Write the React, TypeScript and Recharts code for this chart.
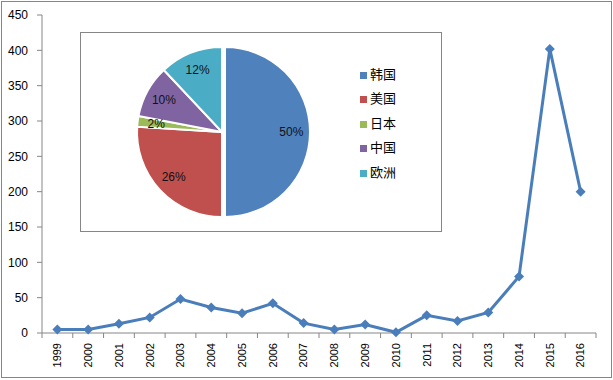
import React from "react";
import { ComposedChart, Line, XAxis, YAxis, PieChart, Pie, Cell } from "recharts";

// yearly counts (line chart)
const years = [
  "1999", "2000", "2001", "2002", "2003", "2004", "2005", "2006", "2007",
  "2008", "2009", "2010", "2011", "2012", "2013", "2014", "2015", "2016",
];
const counts = [5, 5, 13, 22, 48, 36, 28, 42, 14, 5, 12, 1, 25, 17, 29, 80, 402, 200];
const yTicks = [0, 50, 100, 150, 200, 250, 300, 350, 400, 450];

// share by region (inset pie)
const regions = ["韩国", "美国", "日本", "中国", "欧洲"];
const shares = [50, 26, 2, 10, 12];
const regionColors = ["#4F81BD", "#C0504D", "#9BBB59", "#8064A2", "#4BACC6"];

const lineData = years.map((y, i) => ({ year: y, value: counts[i] }));
const pieData = regions.map((r, i) => ({ name: r, value: shares[i] }));

const AXIS = "#868686";
const LINE = "#4A7EBB";
const FONT = "'Liberation Sans', Arial, sans-serif";
const RAD = Math.PI / 180;
// half a category slot, so points sit in the middle of each slot like Excel
const HALF_SLOT = (613 - 17 - 42) / years.length / 2;
const TICK_GAP = 10; // tickSize + tickMargin of the year axis

const Diamond = (p: any) => {
  const { cx, cy, index } = p;
  if (cx == null || cy == null) return <g key={index} />;
  return (
    <polygon
      key={index}
      points={`${cx},${cy - 5} ${cx + 5},${cy} ${cx},${cy + 5} ${cx - 5},${cy}`}
      fill={LINE}
    />
  );
};

// year label rotated, plus Excel-style tick marks between categories
const YearTick = (p: any) => {
  const { x, y, payload, index } = p;
  const axisY = y - TICK_GAP;
  const last = index === years.length - 1;
  return (
    <g>
      <line x1={x - HALF_SLOT} x2={x - HALF_SLOT} y1={axisY} y2={axisY + 5} stroke={AXIS} />
      {last && (
        <line x1={x + HALF_SLOT} x2={x + HALF_SLOT} y1={axisY} y2={axisY + 5} stroke={AXIS} />
      )}
      <g transform={`translate(${x},${y})`}>
        <text
          transform="rotate(-90)"
          textAnchor="end"
          dy="0.35em"
          fontSize={11}
          fontFamily={FONT}
          fill="#000"
        >
          {payload.value}
        </text>
      </g>
    </g>
  );
};

const shareLabel = (show: (i: number) => boolean) => (p: any) => {
  if (!show(p.index)) return null;
  const r = p.outerRadius * 0.78;
  const x = p.cx + r * Math.cos(-p.midAngle * RAD);
  const y = p.cy + r * Math.sin(-p.midAngle * RAD);
  return (
    <text
      key={p.index}
      x={x}
      y={y}
      textAnchor="middle"
      dominantBaseline="central"
      fontSize={12}
      fontFamily={FONT}
      fill="#111"
    >
      {`${Math.round(p.percent * 100)}%`}
    </text>
  );
};

export default function App() {
  return (
    <div
      style={{
        position: "absolute",
        left: 0,
        top: 0,
        width: 613,
        height: 380,
        background: "#fff",
        fontFamily: FONT,
      }}
    >
      <div
        style={{
          position: "absolute",
          left: 1,
          top: 1,
          width: 611,
          height: 377,
          boxSizing: "border-box",
          border: `1px solid ${AXIS}`,
        }}
      />
      <div style={{ position: "absolute", left: 0, top: 0 }}>
        <ComposedChart
          width={613}
          height={380}
          data={lineData}
          margin={{ top: 15, right: 17, left: 1, bottom: 0 }}
        >
          <XAxis
            dataKey="year"
            height={47}
            padding={{ left: HALF_SLOT, right: HALF_SLOT }}
            stroke={AXIS}
            tickLine={false}
            tickSize={6}
            tickMargin={4}
            interval={0}
            tick={<YearTick />}
          />
          <YAxis
            domain={[0, 450]}
            ticks={yTicks}
            width={41}
            tickSize={5}
            tickMargin={9}
            stroke={AXIS}
            tick={{ fill: "#000", fontSize: 12, fontFamily: FONT }}
            interval={0}
          />
          <Line
            dataKey="value"
            stroke={LINE}
            strokeWidth={3}
            dot={Diamond}
            isAnimationActive={false}
          />
        </ComposedChart>
      </div>

      <div
        style={{
          position: "absolute",
          left: 80,
          top: 32,
          width: 362,
          height: 200,
          boxSizing: "border-box",
          border: `1px solid ${AXIS}`,
          background: "#fff",
        }}
      >
        <PieChart width={360} height={198} margin={{ top: 0, right: 0, left: 0, bottom: 0 }}>
          <Pie
            data={pieData}
            dataKey="value"
            cx={141}
            cy={99}
            outerRadius={85}
            startAngle={90}
            endAngle={-270}
            labelLine={false}
            label={shareLabel((i) => i !== 0)}
            isAnimationActive={false}
          >
            {pieData.map((d, i) => (
              <Cell
                key={d.name}
                fill={i === 0 ? "none" : regionColors[i]}
                stroke={i === 0 ? "none" : "#fff"}
                strokeWidth={2}
              />
            ))}
          </Pie>
          <Pie
            data={pieData}
            dataKey="value"
            cx={144}
            cy={99}
            outerRadius={85}
            startAngle={90}
            endAngle={-270}
            labelLine={false}
            label={shareLabel((i) => i === 0)}
            isAnimationActive={false}
          >
            {pieData.map((d, i) => (
              <Cell
                key={d.name}
                fill={i === 0 ? regionColors[i] : "none"}
                stroke={i === 0 ? "#fff" : "none"}
                strokeWidth={2}
              />
            ))}
          </Pie>
        </PieChart>
        <div style={{ position: "absolute", left: 279, top: 28 }}>
          {regions.map((r, i) => (
            <div
              key={r}
              style={{ display: "flex", alignItems: "center", height: 24.5 }}
            >
              <span
                style={{
                  display: "inline-block",
                  width: 7,
                  height: 7,
                  marginTop: 4,
                  marginRight: 3,
                  background: regionColors[i],
                }}
              />
              <span
                style={{
                  fontSize: 13,
                  fontFamily: "'Noto Sans CJK SC', sans-serif",
                  color: "#000",
                }}
              >
                {r}
              </span>
            </div>
          ))}
        </div>
      </div>
    </div>
  );
}
